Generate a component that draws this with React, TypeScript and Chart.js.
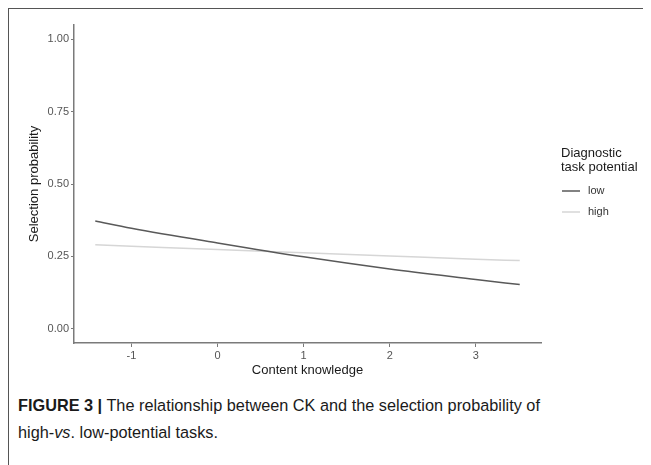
import React, { useEffect, useRef } from "react";
import { Chart, registerables } from "chart.js";

Chart.register(...registerables);

const knowledge = [-1.42, -1, 0, 1, 2, 3, 3.51];
const lowValues = [0.372, 0.347, 0.296, 0.248, 0.206, 0.170, 0.152];
const highValues = [0.290, 0.285, 0.273, 0.262, 0.251, 0.240, 0.235];
const seriesLabels = ["low", "high"];
const xTicks = [-1, 0, 1, 2, 3];
const yTicks = [0, 0.25, 0.5, 0.75, 1];
const legendTitle = ["Diagnostic", "task potential"];

const legendPlugin = {
  id: "customLegend",
  afterDraw(chart: any) {
    const ctx = chart.ctx;
    ctx.save();
    ctx.fillStyle = "#1a1a1a";
    ctx.font = "13px 'Liberation Sans', Arial, sans-serif";
    ctx.textBaseline = "middle";
    ctx.textAlign = "left";
    legendTitle.forEach((t, i) => ctx.fillText(t, 552, 144 + i * 14));
    chart.data.datasets.forEach((ds: any, i: number) => {
      const y = 182 + i * 21;
      ctx.strokeStyle = ds.borderColor;
      ctx.lineWidth = 1.5;
      ctx.beginPath();
      ctx.moveTo(553, y);
      ctx.lineTo(571, y);
      ctx.stroke();
      ctx.fillStyle = "#333";
      ctx.font = "11px 'Liberation Sans', Arial, sans-serif";
      ctx.fillText(ds.label, 579, y);
    });
    ctx.restore();
  },
};

export default function App() {
  const ref = useRef<HTMLCanvasElement>(null);
  useEffect(() => {
    if (!ref.current) return;
    const chart = new Chart(ref.current, {
      type: "line",
      data: {
        datasets: [
          {
            label: seriesLabels[0],
            data: knowledge.map((x, i) => ({ x, y: lowValues[i] })),
            borderColor: "#595959",
            borderWidth: 1.5,
            pointRadius: 0,
            cubicInterpolationMode: "monotone",
          },
          {
            label: seriesLabels[1],
            data: knowledge.map((x, i) => ({ x, y: highValues[i] })),
            borderColor: "#d6d6d6",
            borderWidth: 1.5,
            pointRadius: 0,
            cubicInterpolationMode: "monotone",
          },
        ],
      },
      options: {
        animation: false,
        responsive: false,
        layout: { padding: { left: 0, right: 110, top: 16, bottom: 0 } },
        plugins: { legend: { display: false }, tooltip: { enabled: false } },
        scales: {
          x: {
            type: "linear",
            min: -1.667,
            max: 3.757,
            afterBuildTicks: (s: any) => {
              s.ticks = xTicks.map((v) => ({ value: v }));
            },
            afterFit: (s: any) => {
              s.height = 46;
            },
            grid: { drawOnChartArea: false, drawTicks: true, tickLength: 4, color: "#7a7a7a" },
            border: { display: true, color: "#7a7a7a", width: 1.5 },
            ticks: {
              color: "#555",
              padding: 2,
              font: { size: 11, family: "'Liberation Sans', Arial, sans-serif" },
              callback: (v: any) => String(v),
            },
            title: {
              display: true,
              text: "Content knowledge",
              color: "#1a1a1a",
              font: { size: 13, family: "'Liberation Sans', Arial, sans-serif" },
              padding: { top: 0, bottom: 11 },
            },
          },
          y: {
            type: "linear",
            min: -0.05,
            max: 1.05,
            afterBuildTicks: (s: any) => {
              s.ticks = yTicks.map((v) => ({ value: v }));
            },
            afterFit: (s: any) => {
              s.width = 65;
            },
            grid: { drawOnChartArea: false, drawTicks: true, tickLength: 3, color: "#7a7a7a" },
            border: { display: true, color: "#7a7a7a", width: 1.5 },
            ticks: {
              color: "#555",
              padding: 2,
              font: { size: 11, family: "'Liberation Sans', Arial, sans-serif" },
              callback: (v: any) => Number(v).toFixed(2),
            },
            title: {
              display: true,
              text: "Selection probability",
              color: "#1a1a1a",
              font: { size: 13, family: "'Liberation Sans', Arial, sans-serif" },
              padding: { top: 18, bottom: 0 },
            },
          },
        },
      },
      plugins: [legendPlugin],
    } as any);
    return () => chart.destroy();
  }, []);

  return (
    <div
      style={{
        position: "relative",
        width: 643,
        height: 457,
        borderTop: "1px solid #555",
        borderLeft: "1px solid #555",
        boxSizing: "border-box",
        overflow: "hidden",
      }}
    >
      <canvas ref={ref} width={642} height={380} style={{ position: "absolute", left: 0, top: 0 }} />
      <div
        style={{
          position: "absolute",
          left: 9,
          top: 383,
          width: 630,
          fontFamily: "'Liberation Sans', Arial, sans-serif",
          fontSize: 16.3,
          lineHeight: "27px",
          color: "#1a1a1a",
          whiteSpace: "nowrap",
        }}
      >
        <b>FIGURE 3 |</b> The relationship between CK and the selection probability of
        <br />
        high-<i>vs</i>. low-potential tasks.
      </div>
    </div>
  );
}
